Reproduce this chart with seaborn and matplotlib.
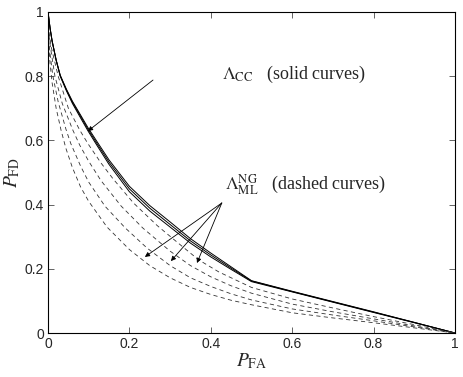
import matplotlib
matplotlib.use("Agg")
import matplotlib.pyplot as plt
import seaborn as sns
import pandas as pd

# solid curves (Lambda_CC): shared P_FA grid, three runs
SOLID_PFA = [0, 0.005, 0.01, 0.02, 0.03, 0.045, 0.06, 0.08, 0.098, 0.12, 0.15,
             0.2, 0.25, 0.3, 0.35, 0.4, 0.45, 0.5, 0.6, 0.7, 0.8, 0.9, 1.0]
SOLID_A = [1, 0.95, 0.91, 0.85, 0.8, 0.755, 0.715, 0.67, 0.63, 0.585, 0.525,
           0.44, 0.38, 0.33, 0.28, 0.237, 0.198, 0.16, 0.128, 0.096, 0.064, 0.032, 0]
SOLID_B = [1, 0.95, 0.91, 0.85, 0.802, 0.758, 0.719, 0.675, 0.635, 0.591, 0.532,
           0.449, 0.389, 0.338, 0.287, 0.243, 0.202, 0.162, 0.129, 0.097, 0.065, 0.033, 0]
SOLID_C = [1, 0.95, 0.91, 0.85, 0.803, 0.76, 0.722, 0.679, 0.64, 0.597, 0.539,
           0.457, 0.397, 0.346, 0.294, 0.249, 0.206, 0.163, 0.13, 0.098, 0.066, 0.033, 0]

# dashed curves (Lambda_ML^NG)
DASH1_PFA = [0, 0.005, 0.01, 0.02, 0.032, 0.044, 0.06, 0.08, 0.1, 0.145, 0.2,
             0.25, 0.3, 0.35, 0.4, 0.45, 0.5, 0.6, 0.7, 0.8, 0.9, 1.0]
DASH1_PFD = [0.92, 0.84, 0.78, 0.7, 0.632, 0.575, 0.515, 0.455, 0.41, 0.33, 0.26,
             0.21, 0.172, 0.142, 0.12, 0.102, 0.088, 0.063, 0.047, 0.032, 0.016, 0]
DASH2_PFA = [0, 0.005, 0.012, 0.025, 0.044, 0.056, 0.08, 0.1, 0.14, 0.19, 0.243,
             0.3, 0.35, 0.4, 0.45, 0.5, 0.6, 0.7, 0.8, 0.9, 1.0]
DASH2_PFD = [0.94, 0.87, 0.8, 0.72, 0.635, 0.59, 0.52, 0.47, 0.395, 0.327, 0.265,
             0.21, 0.172, 0.145, 0.122, 0.103, 0.075, 0.056, 0.038, 0.019, 0]
DASH3_PFA = [0, 0.006, 0.017, 0.035, 0.061, 0.078, 0.1, 0.13, 0.18, 0.233, 0.3,
             0.35, 0.4, 0.45, 0.5, 0.6, 0.7, 0.8, 0.9, 1.0]
DASH3_PFD = [0.95, 0.89, 0.8, 0.715, 0.632, 0.585, 0.535, 0.475, 0.395, 0.327, 0.255,
             0.21, 0.175, 0.147, 0.124, 0.09, 0.066, 0.044, 0.022, 0]
DASH4_PFA = [0, 0.008, 0.025, 0.05, 0.078, 0.098, 0.13, 0.16, 0.21, 0.268, 0.32,
             0.37, 0.42, 0.47, 0.5, 0.6, 0.7, 0.8, 0.9, 1.0]
DASH4_PFD = [0.96, 0.89, 0.8, 0.7, 0.632, 0.59, 0.53, 0.48, 0.405, 0.335, 0.28,
             0.228, 0.19, 0.16, 0.142, 0.106, 0.078, 0.051, 0.026, 0]

TICKS = [0, 0.2, 0.4, 0.6, 0.8, 1]
TICK_LABELS = ["0", "0.2", "0.4", "0.6", "0.8", "1"]

# annotation anchors (data coords)
CC_TEXT = (0.427, 0.804)
CC_ARROW_FROM = (0.258, 0.788)
CC_ARROW_TO = (0.098, 0.629)
ML_TEXT = (0.435, 0.461)
ML_ARROW_FROM = (0.427, 0.405)
ML_ARROW_TO = [(0.238, 0.237), (0.302, 0.224), (0.366, 0.218)]


def build_frame():
    parts = []
    for name, y in [("cc1", SOLID_A), ("cc2", SOLID_B), ("cc3", SOLID_C)]:
        parts.append(pd.DataFrame({"pfa": SOLID_PFA, "pfd": y, "curve": name, "kind": "solid"}))
    for name, x, y in [("ml1", DASH1_PFA, DASH1_PFD), ("ml2", DASH2_PFA, DASH2_PFD),
                       ("ml3", DASH3_PFA, DASH3_PFD), ("ml4", DASH4_PFA, DASH4_PFD)]:
        parts.append(pd.DataFrame({"pfa": x, "pfd": y, "curve": name, "kind": "dashed"}))
    return pd.concat(parts, ignore_index=True)


sns.set_style("ticks")
plt.rcParams.update({
    "font.family": ["Liberation Sans", "DejaVu Sans"],
    "mathtext.fontset": "stix",
    "xtick.direction": "in",
    "ytick.direction": "in",
    "xtick.top": True,
    "ytick.right": True,
    "axes.linewidth": 0.8,
})

df = build_frame()

fig = plt.figure(figsize=(4.63, 3.77), dpi=100)
ax = fig.add_axes([0.1037, 0.1167, 0.8790, 0.8515])

sns.lineplot(
    data=df, x="pfa", y="pfd", units="curve", style="kind", estimator=None,
    sort=False, color="black", linewidth=0.7, legend=False, ax=ax,
    dashes={"solid": "", "dashed": (5, 4)},
)
# dashed curves look lighter in the original
for line in ax.get_lines():
    if line.get_linestyle() != "-":
        line.set_color("#333333")
        line.set_linewidth(0.6)

ax.set_xlim(0, 1)
ax.set_ylim(0, 1)
ax.set_xticks(TICKS)
ax.set_xticklabels(TICK_LABELS)
ax.set_yticks(TICKS)
ax.set_yticklabels(TICK_LABELS)
ax.tick_params(labelsize=10, length=4, width=0.5, pad=3)
for s in ax.spines.values():
    s.set_visible(True)
    s.set_color("black")

ax.set_xlabel(r"$P_{\rm FA}$", fontsize=14, labelpad=0)
ax.set_ylabel(r"$P_{\rm FD}$", fontsize=14, labelpad=2)

arrow = dict(arrowstyle="-|>", lw=0.6, color="black", mutation_scale=7,
             shrinkA=0, shrinkB=0)
ax.annotate("", xy=CC_ARROW_TO, xytext=CC_ARROW_FROM, arrowprops=arrow)
for tip in ML_ARROW_TO:
    ax.annotate("", xy=tip, xytext=ML_ARROW_FROM, arrowprops=arrow)

ax.text(*CC_TEXT, r"$\Lambda_{\rm CC}$   (solid curves)", family="Liberation Serif",
        fontsize=13, va="center", ha="left")
ax.text(*ML_TEXT, r"$\Lambda_{\rm ML}^{\rm NG}$   (dashed curves)", family="Liberation Serif",
        fontsize=13, va="center", ha="left")

fig.savefig("out.png", dpi=100)
